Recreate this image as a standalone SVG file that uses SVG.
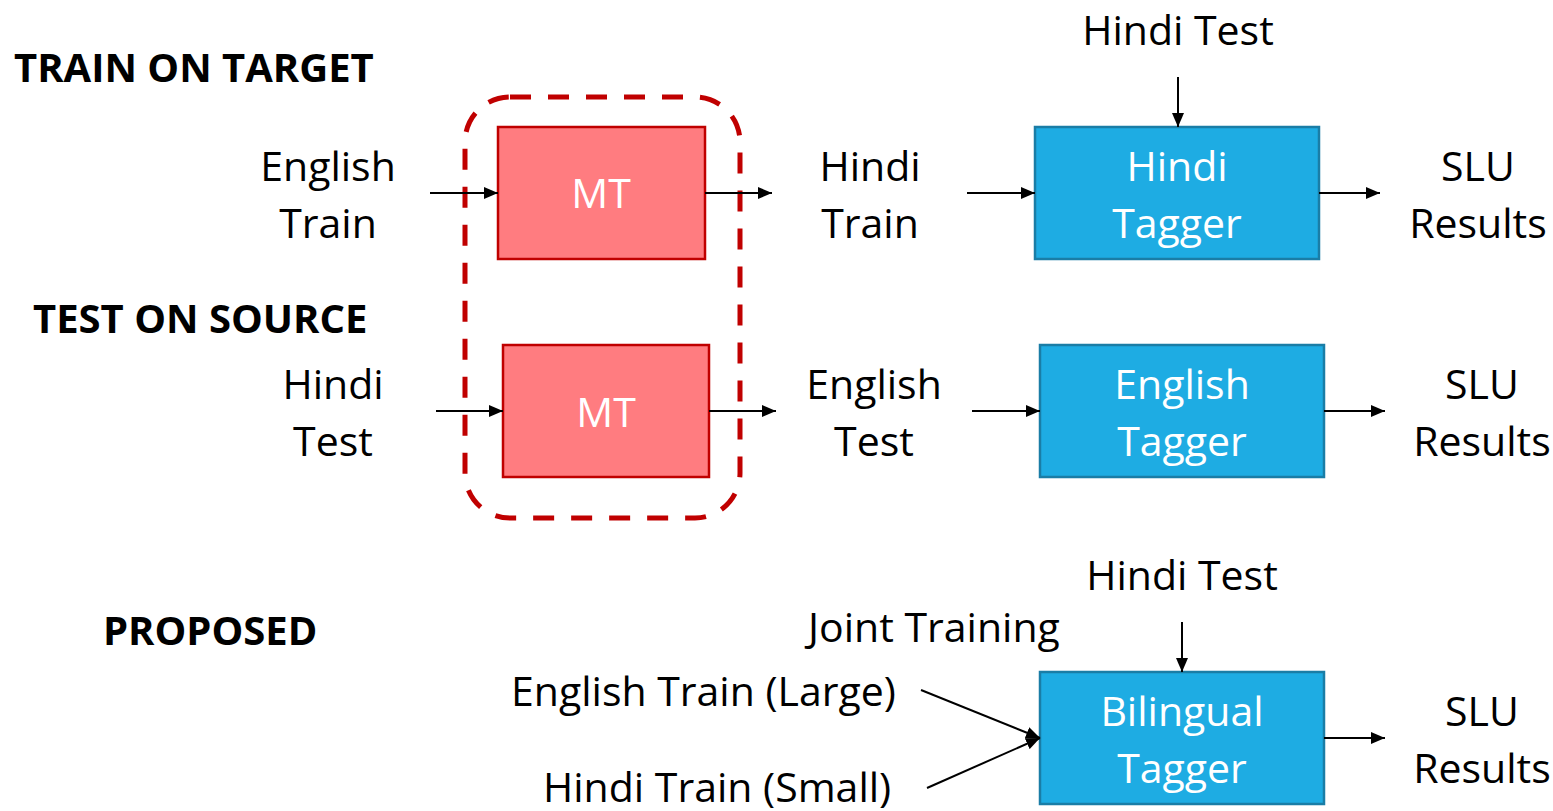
<svg xmlns="http://www.w3.org/2000/svg" width="1553" height="811" viewBox="0 0 1553 811">
<defs>
<marker id="ah" markerWidth="14" markerHeight="12" refX="14" refY="6" orient="auto" markerUnits="userSpaceOnUse"><path d="M0,0 L14,6 L0,12 Z" fill="#000"/></marker>
<style>
text{font-family:"Open Sans","Liberation Sans",sans-serif;font-size:41px;fill:#000}
.h{font-weight:bold;font-size:40px}
.w{fill:#fff}
.c{text-anchor:middle}
.mt{fill:#FF7C80;stroke:#C00000;stroke-width:2.5}
.tg{fill:#1EACE3;stroke:#1A7DA6;stroke-width:2.5}
.cn line{stroke:#000;stroke-width:2;marker-end:url(#ah)}
</style>
</defs>
<rect width="1553" height="811" fill="#fff"/>
<text class="h" x="14" y="82">TRAIN ON TARGET</text>
<text class="h" x="33" y="333">TEST ON SOURCE</text>
<text class="h" x="103" y="645">PROPOSED</text>
<rect id="dash" x="465" y="97" width="275" height="421" rx="45" fill="none" stroke="#C00000" stroke-width="5" stroke-dasharray="21,17"/>
<g id="mt1"><rect class="mt" x="498" y="127" width="207" height="132"/><text class="w c" x="601" y="208">MT</text></g>
<g id="mt2"><rect class="mt" x="503" y="345" width="206" height="132"/><text class="w c" x="606" y="427">MT</text></g>
<g id="hindiTagger"><rect class="tg" x="1035" y="127" width="284" height="132"/><text class="w c" x="1177" y="181">Hindi</text><text class="w c" x="1177" y="238">Tagger</text></g>
<g id="englishTagger"><rect class="tg" x="1040" y="345" width="284" height="132"/><text class="w c" x="1182" y="399">English</text><text class="w c" x="1182" y="456">Tagger</text></g>
<g id="bilingualTagger"><rect class="tg" x="1040" y="672" width="284" height="132"/><text class="w c" x="1182" y="726">Bilingual</text><text class="w c" x="1182" y="783">Tagger</text></g>
<g id="labels">
<text class="c" x="328" y="181">English</text><text class="c" x="328" y="238">Train</text>
<text class="c" x="870" y="181">Hindi</text><text class="c" x="870" y="238">Train</text>
<text class="c" x="1178" y="45">Hindi Test</text>
<text class="c" x="1478" y="181">SLU</text><text class="c" x="1478" y="238">Results</text>
<text class="c" x="333" y="399">Hindi</text><text class="c" x="333" y="456">Test</text>
<text class="c" x="874" y="399">English</text><text class="c" x="874" y="456">Test</text>
<text class="c" x="1482" y="399">SLU</text><text class="c" x="1482" y="456">Results</text>
<text class="c" x="1182" y="590">Hindi Test</text>
<text x="808" y="642">Joint Training</text>
<text x="511" y="706">English Train (Large)</text>
<text x="543" y="802">Hindi Train (Small)</text>
<text class="c" x="1482" y="726">SLU</text><text class="c" x="1482" y="783">Results</text>
</g>
<g id="connectors" class="cn">
<line x1="430" y1="193" x2="498" y2="193"/>
<line x1="705" y1="193" x2="772" y2="193"/>
<line x1="967" y1="193" x2="1035" y2="193"/>
<line x1="1319" y1="193" x2="1380" y2="193"/>
<line x1="1178" y1="77" x2="1178" y2="127"/>
<line x1="436" y1="411" x2="503" y2="411"/>
<line x1="709" y1="411" x2="776" y2="411"/>
<line x1="972" y1="411" x2="1040" y2="411"/>
<line x1="1324" y1="411" x2="1385" y2="411"/>
<line x1="1182" y1="622" x2="1182" y2="672"/>
<line x1="921" y1="690" x2="1040" y2="738"/>
<line x1="927" y1="788" x2="1040" y2="738"/>
<line x1="1324" y1="738" x2="1385" y2="738"/>
</g>
</svg>
